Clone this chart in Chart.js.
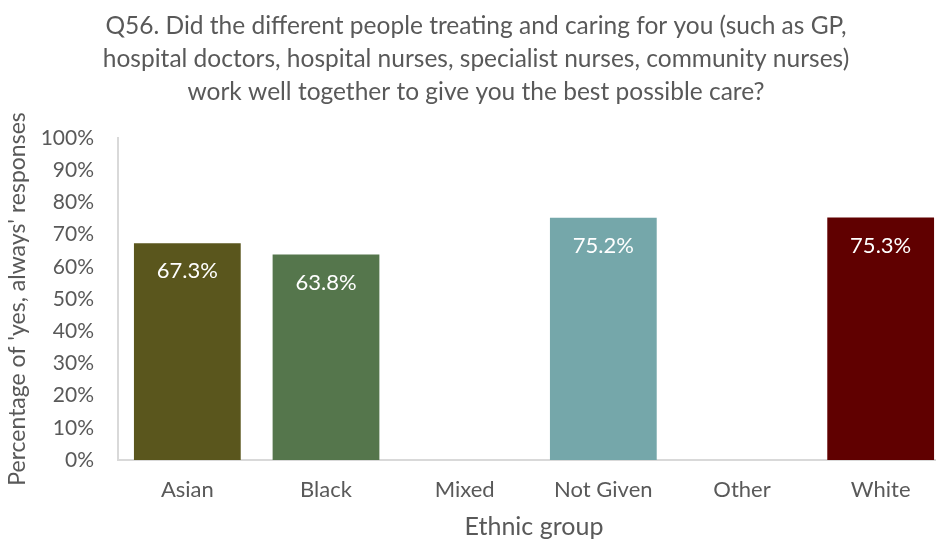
<!DOCTYPE html>
<html>
<head>
<meta charset="utf-8">
<script src="https://cdn.jsdelivr.net/npm/chart.js@4"></script>
<style>
  html, body { margin: 0; padding: 0; background: #fff; overflow: hidden; }
  #wrap { width: 950px; height: 542px; }
</style>
</head>
<body>
<div id="wrap"><canvas id="ethnicChart"></canvas></div>
<script>
const groups = ['Asian', 'Black', 'Mixed', 'Not Given', 'Other', 'White'];
const yesAlways = [67.3, 63.8, null, 75.2, null, 75.3];
const barColours = ['#5a561d', '#55764c', '#999999', '#75a7aa', '#999999', '#600000'];

const FONT = 'Lato, "Open Sans", sans-serif';

// value labels drawn just inside the top of each bar
const barLabels = {
  id: 'barLabels',
  afterDatasetsDraw(chart) {
    const { ctx } = chart;
    const meta = chart.getDatasetMeta(0);
    ctx.save();
    ctx.fillStyle = '#ffffff';
    ctx.font = '22px ' + FONT;
    ctx.textAlign = 'center';
    ctx.textBaseline = 'middle';
    meta.data.forEach((bar, i) => {
      const v = yesAlways[i];
      if (v == null) return;
      ctx.fillText(v.toFixed(1) + '%', bar.x, bar.y + 28);
    });
    ctx.restore();
  }
};

const ctx = document.getElementById('ethnicChart').getContext('2d');

new Chart(ctx, {
  type: 'bar',
  data: {
    labels: groups,
    datasets: [{
      data: yesAlways,
      backgroundColor: barColours,
      categoryPercentage: 1,
      barPercentage: 0.77
    }]
  },
  options: {
    responsive: true,
    maintainAspectRatio: false,
    animation: false,
    layout: { padding: { left: 2, right: 0, top: 9, bottom: 0 } },
    plugins: {
      legend: { display: false },
      tooltip: { enabled: false },
      title: {
        display: true,
        text: [
          'Q56. Did the different people treating and caring for you (such as GP,',
          'hospital doctors, hospital nurses, specialist nurses, community nurses)',
          'work well together to give you the best possible care?'
        ],
        color: '#595959',
        font: { family: FONT, size: 24.5, weight: 'normal', lineHeight: 1.36 },
        padding: { top: 0, bottom: 29 }
      }
    },
    scales: {
      x: {
        grid: { display: false },
        border: { display: true, color: '#d9d9d9', width: 2 },
        ticks: { color: '#595959', font: { family: FONT, size: 22 }, padding: 9 },
        title: {
          display: true,
          text: 'Ethnic group',
          color: '#595959',
          font: { family: FONT, size: 25 },
          padding: { top: 0, bottom: 0 }
        },
        afterFit(scale) { scale.height = 82; }
      },
      y: {
        min: 0,
        max: 100,
        grid: { display: false },
        border: { display: true, color: '#d9d9d9', width: 2 },
        ticks: {
          stepSize: 10,
          color: '#595959',
          font: { family: FONT, size: 21 },
          padding: 16,
          callback: v => v + '%'
        },
        title: {
          display: true,
          text: "Percentage of 'yes, always' responses",
          color: '#595959',
          font: { family: FONT, size: 23 },
          padding: { top: 2, bottom: 0 }
        },
        afterFit(scale) { scale.width = 116; }
      }
    }
  },
  plugins: [barLabels]
});
</script>
</body>
</html>
